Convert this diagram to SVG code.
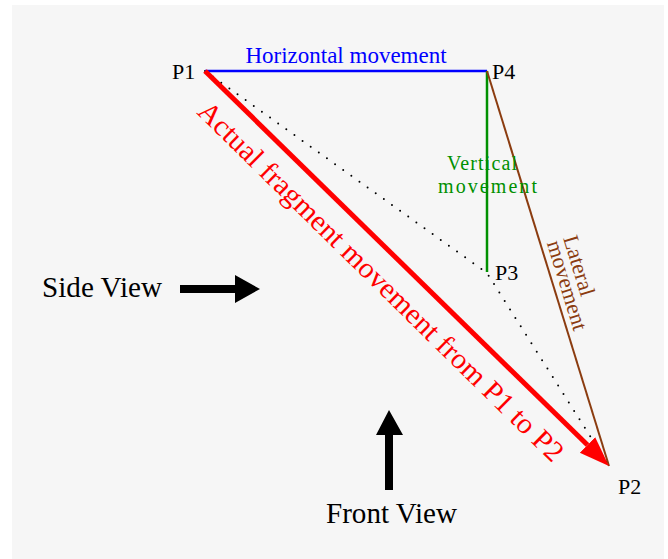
<svg xmlns="http://www.w3.org/2000/svg" width="668" height="559" viewBox="0 0 668 559">
<style>
  text { font-family: "Liberation Serif", "Times New Roman", serif; }
  .lbl { font-size: 22px; fill: #000; }
  .view { font-size: 29px; fill: #000; }
</style>
<defs>
  <marker id="redHead" markerUnits="userSpaceOnUse" markerWidth="32" markerHeight="24" refX="0" refY="11" orient="auto">
    <path d="M0,0 L30,11 L0,22 Z" fill="#ff0000"/>
  </marker>
</defs>
<rect x="0" y="0" width="668" height="559" fill="#ffffff"/>
<rect x="12" y="5" width="652" height="554" fill="#f6f6f6"/>

<g id="connectors">
  <polyline points="205,71 487,273 609,466" fill="none" stroke="#000" stroke-width="2" stroke-dasharray="0 10" stroke-linecap="round"/>
  <line id="horizontal" x1="205" y1="71" x2="487" y2="71" stroke="#0000ff" stroke-width="2.5"/>
  <line id="vertical" x1="487" y1="71" x2="487" y2="272" stroke="#009000" stroke-width="2.5"/>
  <line id="lateral" x1="487" y1="71" x2="609" y2="466" stroke="#8b3c10" stroke-width="2"/>
  <line id="actual" x1="205" y1="71" x2="587.5" y2="445" stroke="#ff0000" stroke-width="5" marker-end="url(#redHead)"/>
</g>

<g id="P1"><text class="lbl" x="172" y="79">P1</text></g>
<g id="P4"><text class="lbl" x="492" y="79">P4</text></g>
<g id="P3"><text class="lbl" x="495" y="280">P3</text></g>
<g id="P2"><text class="lbl" x="618" y="494">P2</text></g>

<g id="label-horizontal"><text x="346" y="63" text-anchor="middle" font-size="23" fill="#0000ff">Horizontal movement</text></g>
<g id="label-vertical" fill="#009000" font-size="20">
  <text x="447" y="170" textLength="70">Vertical</text>
  <text x="438" y="193" textLength="99">movement</text>
</g>
<g id="label-lateral" fill="#8b3c10" font-size="22" transform="translate(563,238) rotate(73)">
  <text x="0" y="0">Lateral</text>
  <text x="0" y="17">movement</text>
</g>
<g id="label-actual" transform="translate(196,113) rotate(44.5)">
  <text x="0" y="0" font-size="29" fill="#ff0000" textLength="500" lengthAdjust="spacingAndGlyphs">Actual fragment movement from P1 to P2</text>
</g>

<g id="side-view">
  <text class="view" x="42" y="297" textLength="120" lengthAdjust="spacingAndGlyphs">Side View</text>
  <path d="M180,285 L235,285 L235,275 L260,289 L235,303 L235,293 L180,293 Z" fill="#000"/>
</g>
<g id="front-view">
  <text class="view" x="326" y="523" textLength="131" lengthAdjust="spacingAndGlyphs">Front View</text>
  <path d="M385,490 L385,435 L376,435 L389,410 L403,435 L393,435 L393,490 Z" fill="#000"/>
</g>
</svg>
